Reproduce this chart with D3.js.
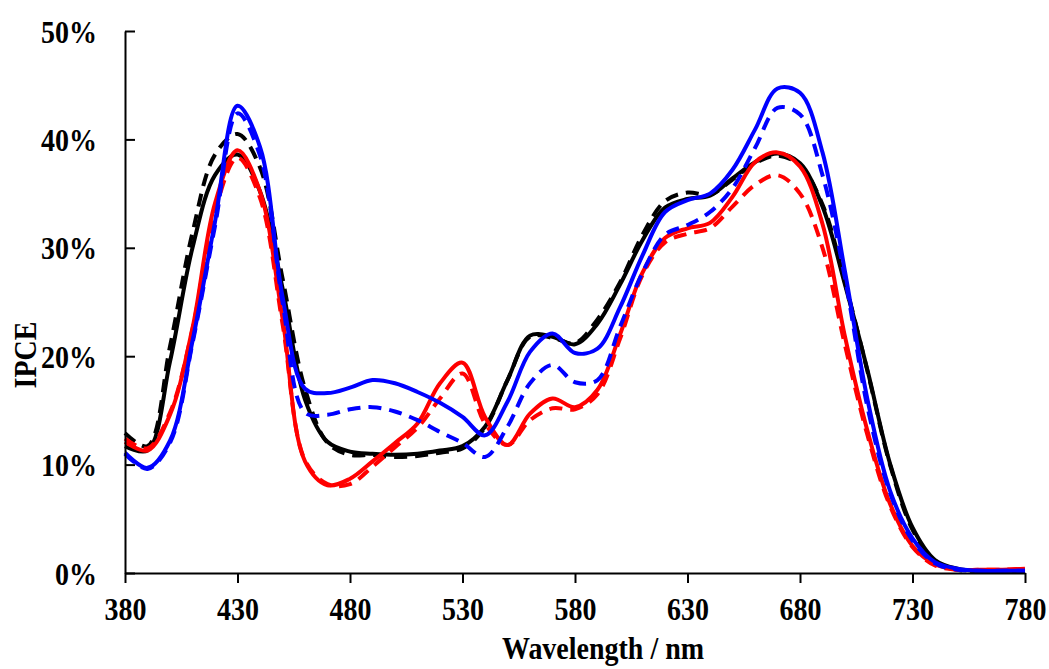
<!DOCTYPE html>
<html>
<head>
<meta charset="utf-8">
<script src="https://cdn.jsdelivr.net/npm/d3@7"></script>
<style>
  body { margin: 0; background: #fff; }
  svg text { font-family: "Liberation Serif", "Times New Roman", serif; font-weight: bold; }
</style>
</head>
<body>
<svg id="chart" width="1049" height="669"></svg>
<script>
// wavelength (nm)
const wavelengths = [380, 390, 400, 410, 420, 430, 440, 450, 460, 470, 480, 490, 500, 510, 520, 530, 540, 550, 560, 570,
    580, 590, 600, 610, 620, 630, 640, 650, 660, 670, 680, 690, 700, 710, 720, 730, 740, 750, 760, 770, 780];

// IPCE in %
const blackSolid = [11.7, 11.3, 19.5, 30.0, 36.7, 38.6, 35.2, 26.3, 16.0, 12.1, 11.2, 11.0, 10.9, 11.0, 11.3, 11.7, 13.5, 17.8, 21.9, 21.8,
    21.1, 23.0, 26.6, 30.7, 33.7, 34.5, 34.8, 36.4, 37.9, 38.7, 37.8, 33.8, 26.6, 18.7, 10.1, 4.2, 1.2, 0.4, 0.2, 0.2, 0.2];
const blackDashed = [12.9, 11.7, 20.9, 31.4, 38.6, 40.5, 37.4, 27.2, 17.0, 12.0, 10.9, 10.9, 10.7, 10.8, 11.1, 11.5, 13.4, 17.8, 21.8, 21.7,
    21.2, 23.4, 26.8, 31.2, 34.3, 35.1, 34.9, 36.3, 37.8, 38.5, 37.6, 34.0, 26.8, 18.6, 10.0, 4.0, 1.0, 0.3, 0.2, 0.2, 0.2];
const blueSolid = [11.1, 9.7, 12.2, 21.4, 32.4, 43.1, 39.3, 25.5, 17.0, 16.6, 17.1, 17.8, 17.5, 16.7, 15.7, 14.4, 12.7, 15.8, 20.4, 22.1,
    20.3, 20.7, 24.5, 29.3, 33.3, 34.4, 35.0, 37.2, 40.9, 44.7, 44.3, 38.8, 27.8, 16.0, 7.6, 3.2, 1.0, 0.4, 0.2, 0.2, 0.2];
const blueDashed = [11.0, 9.6, 12.0, 21.2, 32.0, 42.4, 38.5, 25.0, 14.8, 14.6, 15.1, 15.3, 14.9, 14.1, 13.0, 12.0, 10.7, 13.5, 17.5, 19.2,
    17.6, 17.8, 22.7, 27.7, 31.2, 32.1, 33.3, 35.5, 39.2, 42.9, 42.3, 36.7, 27.2, 15.3, 7.4, 3.0, 0.9, 0.3, 0.2, 0.2, 0.2];
const redSolid = [12.1, 11.3, 14.6, 22.6, 34.1, 39.0, 35.2, 23.5, 10.3, 8.1, 8.7, 10.3, 12.0, 13.8, 17.5, 19.4, 14.4, 11.8, 14.7, 16.1,
    15.3, 16.9, 22.0, 27.7, 30.9, 31.8, 32.3, 34.7, 37.9, 38.8, 37.5, 32.2, 21.8, 13.1, 6.4, 2.5, 0.8, 0.3, 0.3, 0.3, 0.4];
const redDashed = [12.4, 11.5, 14.8, 22.5, 33.4, 38.3, 34.6, 23.0, 10.4, 8.2, 8.2, 9.8, 11.6, 13.4, 16.1, 18.4, 13.8, 11.8, 14.1, 15.2,
    15.1, 16.5, 21.6, 27.5, 30.5, 31.3, 31.8, 33.8, 35.8, 36.7, 35.0, 30.0, 21.0, 12.7, 6.2, 2.4, 0.7, 0.3, 0.3, 0.3, 0.4];

const xTicks = [380, 430, 480, 530, 580, 630, 680, 730, 780];
const yTicks = [0, 10, 20, 30, 40, 50];

const series = [
    { name: "black dashed", values: blackDashed, color: "#000000", dashed: true },
    { name: "black solid", values: blackSolid, color: "#000000", dashed: false },
    { name: "red dashed", values: redDashed, color: "#ff0000", dashed: true },
    { name: "red solid", values: redSolid, color: "#ff0000", dashed: false },
    { name: "blue dashed", values: blueDashed, color: "#0000ff", dashed: true },
    { name: "blue solid", values: blueSolid, color: "#0000ff", dashed: false }
];

const svg = d3.select("#chart");

const x = d3.scaleLinear().domain([380, 780]).range([125, 1025]);
const y = d3.scaleLinear().domain([0, 50]).range([573, 31]);

const line = d3.line()
    .x((d, i) => x(wavelengths[i]))
    .y(d => y(d))
    .curve(d3.curveCatmullRom.alpha(0.5));

svg.append("g")
    .selectAll("path")
    .data(series)
    .join("path")
    .attr("d", d => line(d.values))
    .style("fill", "none")
    .style("stroke", d => d.color)
    .style("stroke-width", 4)
    .style("stroke-dasharray", d => d.dashed ? "13,8" : null)
    .style("stroke-linejoin", "round");

// x axis
const xAxis = svg.append("g")
    .attr("transform", `translate(0, ${y(0)})`)
    .call(d3.axisBottom(x).tickValues(xTicks).tickSize(10).tickSizeOuter(0).tickFormat(d3.format("d")));

// y axis, ticks pointing inward
const yAxis = svg.append("g")
    .attr("transform", `translate(${x(380)}, 0)`)
    .call(d3.axisLeft(y).tickValues(yTicks).tickSizeInner(-10).tickSizeOuter(0).tickPadding(28).tickFormat(d => d + "%"));

[xAxis, yAxis].forEach(ax => {
    ax.select(".domain").attr("stroke", "#000").attr("stroke-width", 2);
    ax.selectAll(".tick line").attr("stroke", "#000").attr("stroke-width", 2);
    ax.selectAll(".tick text")
        .attr("fill", "#000")
        .attr("y", 0)
        .attr("dy", null)
        .style("font-size", "28px")
        .style("font-family", "'Liberation Serif', 'Times New Roman', serif")
        .style("font-weight", "bold");
});

// the original glyphs are a little taller than plain Times
xAxis.selectAll(".tick text").attr("transform", "translate(0, 47) scale(1, 1.15)");
yAxis.selectAll(".tick text").attr("transform", "translate(0, 11) scale(1, 1.15)");

svg.append("text")
    .attr("transform", "translate(603, 659) scale(1, 1.15)")
    .attr("text-anchor", "middle")
    .style("font-size", "28px")
    .text("Wavelength / nm");

svg.append("text")
    .attr("transform", "translate(36, 355) rotate(-90) scale(1, 1.15)")
    .attr("text-anchor", "middle")
    .style("font-size", "28px")
    .text("IPCE");
</script>
</body>
</html>
